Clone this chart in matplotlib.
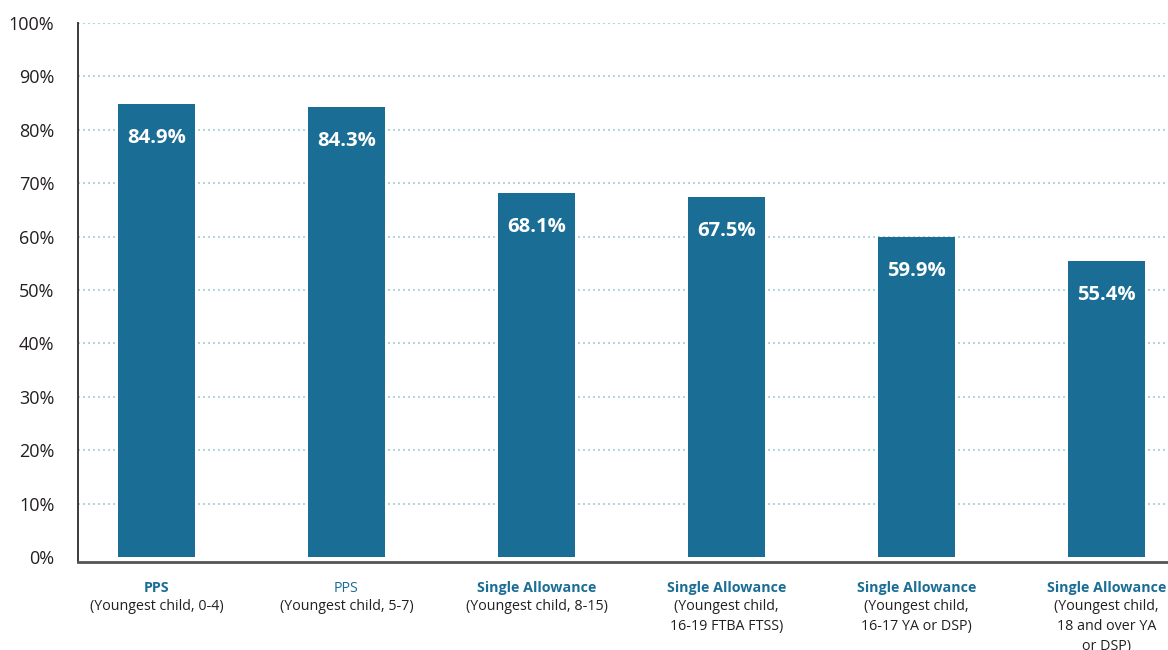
import matplotlib
matplotlib.use("Agg")
import matplotlib.pyplot as plt

categories = ["PPS", "PPS", "Single Allowance", "Single Allowance", "Single Allowance", "Single Allowance"]
subtitles = ["(Youngest child, 0-4)", "(Youngest child, 5-7)", "(Youngest child, 8-15)",
             "(Youngest child,\n16-19 FTBA FTSS)", "(Youngest child,\n16-17 YA or DSP)",
             "(Youngest child,\n18 and over YA\nor DSP)"]
bold_cat = [True, False, True, True, True, True]
values = [84.9, 84.3, 68.1, 67.5, 59.9, 55.4]
value_labels = ["84.9%", "84.3%", "68.1%", "67.5%", "59.9%", "55.4%"]
yticks = [0, 10, 20, 30, 40, 50, 60, 70, 80, 90, 100]

BAR = "#1a6d94"
FONT = ["Open Sans", "DejaVu Sans"]
plt.rcParams['font.family'] = FONT

fig = plt.figure(figsize=(11.68, 6.5), dpi=100)
ax = fig.add_axes([78/1168, 1 - 562/650, 1 - 78/1168, (562 - 23)/650])

x = list(range(len(values)))
ax.bar(x, values, width=0.405, color=BAR, zorder=3)

for xi, v, lab in zip(x, values, value_labels):
    ax.annotate(lab, (xi, v), xytext=(0, -24.5), textcoords="offset points",
                ha="center", va="center", color="white", fontsize=14.6, fontweight="bold", zorder=4)

ax.set_xlim(-0.413, 5.324)
ax.set_ylim(-0.94, 100)
ax.set_yticks(yticks)
ax.set_yticklabels([f"{t}%" for t in yticks], fontsize=13, color="#231f20")
ax.tick_params(axis="y", length=0, pad=17)
ax.set_xticks([])

ax.grid(axis="y", color="#9fcfd6", linestyle=(0, (1.2, 1.8)), linewidth=1.2, zorder=0)
ax.yaxis.get_gridlines()[0].set_visible(False)
ax.set_axisbelow(True)

for s in ["top", "right"]:
    ax.spines[s].set_visible(False)
ax.spines["left"].set_color("#3a3a3a")
ax.spines["left"].set_linewidth(1.4)
ax.spines["bottom"].set_color("#555555")
ax.spines["bottom"].set_linewidth(2)

for xi, cat, sub, b in zip(x, categories, subtitles, bold_cat):
    ax.annotate(cat, (xi, 0), xycoords=("data", "axes fraction"), xytext=(0, -19),
                textcoords="offset points", ha="center", va="center", fontsize=10.3,
                fontweight="bold" if b else "normal", color=BAR)
    ax.annotate(sub, (xi, 0), xycoords=("data", "axes fraction"), xytext=(0, -26.5),
                textcoords="offset points", ha="center", va="top", fontsize=10.3,
                color="#231f20", linespacing=1.45)

fig.savefig("out.png", dpi=100)
